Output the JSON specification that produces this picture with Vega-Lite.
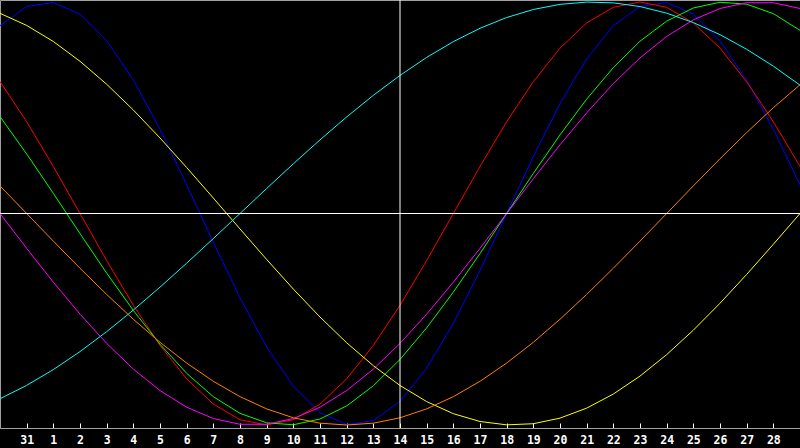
{
  "$schema": "https://vega.github.io/schema/vega-lite/v6.json",
  "width": 800,
  "height": 428,
  "autosize": "none",
  "padding": {"left": 0, "top": 0, "right": 0, "bottom": 20},
  "background": "#000000",
  "config": {
    "view": {"stroke": "#a0a0a0", "fill": "#000000"},
    "axis": {"grid": false},
    "axisX": {
      "labelColor": "#ffffff",
      "labelFont": "DejaVu Sans Mono",
      "labelFontWeight": "bold",
      "labelFontSize": 11.5,
      "labelPadding": 11,
      "labelBaseline": "top",
      "labelAngle": 0,
      "labelFlush": false,
      "labelOverlap": false,
      "labelBound": false,
      "tickColor": "#ffffff",
      "tickSize": -5,
      "domainColor": "#a0a0a0"
    }
  },
  "layer": [
    {
      "data": {
        "values": [
          {"d": 0, "c": "physical", "v": 0.8879}, {"d": 1, "c": "physical", "v": 0.9791}, {"d": 2, "c": "physical", "v": 0.9977},
          {"d": 3, "c": "physical", "v": 0.9423}, {"d": 4, "c": "physical", "v": 0.8170}, {"d": 5, "c": "physical", "v": 0.6311},
          {"d": 6, "c": "physical", "v": 0.3984}, {"d": 7, "c": "physical", "v": 0.1362}, {"d": 8, "c": "physical", "v": -0.1362},
          {"d": 9, "c": "physical", "v": -0.3984}, {"d": 10, "c": "physical", "v": -0.6311}, {"d": 11, "c": "physical", "v": -0.8170},
          {"d": 12, "c": "physical", "v": -0.9423}, {"d": 13, "c": "physical", "v": -0.9977}, {"d": 14, "c": "physical", "v": -0.9791},
          {"d": 15, "c": "physical", "v": -0.8879}, {"d": 16, "c": "physical", "v": -0.7308}, {"d": 17, "c": "physical", "v": -0.5196},
          {"d": 18, "c": "physical", "v": -0.2698}, {"d": 19, "c": "physical", "v": 0}, {"d": 20, "c": "physical", "v": 0.2698},
          {"d": 21, "c": "physical", "v": 0.5196}, {"d": 22, "c": "physical", "v": 0.7308}, {"d": 23, "c": "physical", "v": 0.8879},
          {"d": 24, "c": "physical", "v": 0.9791}, {"d": 25, "c": "physical", "v": 0.9977}, {"d": 26, "c": "physical", "v": 0.9423},
          {"d": 27, "c": "physical", "v": 0.8170}, {"d": 28, "c": "physical", "v": 0.6311}, {"d": 29, "c": "physical", "v": 0.3984},
          {"d": 30, "c": "physical", "v": 0.1362},

          {"d": 0, "c": "emotional", "v": 0.6235}, {"d": 1, "c": "emotional", "v": 0.4339}, {"d": 2, "c": "emotional", "v": 0.2225},
          {"d": 3, "c": "emotional", "v": 0}, {"d": 4, "c": "emotional", "v": -0.2225}, {"d": 5, "c": "emotional", "v": -0.4339},
          {"d": 6, "c": "emotional", "v": -0.6235}, {"d": 7, "c": "emotional", "v": -0.7818}, {"d": 8, "c": "emotional", "v": -0.9010},
          {"d": 9, "c": "emotional", "v": -0.9749}, {"d": 10, "c": "emotional", "v": -1}, {"d": 11, "c": "emotional", "v": -0.9749},
          {"d": 12, "c": "emotional", "v": -0.9010}, {"d": 13, "c": "emotional", "v": -0.7818}, {"d": 14, "c": "emotional", "v": -0.6235},
          {"d": 15, "c": "emotional", "v": -0.4339}, {"d": 16, "c": "emotional", "v": -0.2225}, {"d": 17, "c": "emotional", "v": 0},
          {"d": 18, "c": "emotional", "v": 0.2225}, {"d": 19, "c": "emotional", "v": 0.4339}, {"d": 20, "c": "emotional", "v": 0.6235},
          {"d": 21, "c": "emotional", "v": 0.7818}, {"d": 22, "c": "emotional", "v": 0.9010}, {"d": 23, "c": "emotional", "v": 0.9749},
          {"d": 24, "c": "emotional", "v": 1}, {"d": 25, "c": "emotional", "v": 0.9749}, {"d": 26, "c": "emotional", "v": 0.9010},
          {"d": 27, "c": "emotional", "v": 0.7818}, {"d": 28, "c": "emotional", "v": 0.6235}, {"d": 29, "c": "emotional", "v": 0.4339},
          {"d": 30, "c": "emotional", "v": 0.2225},

          {"d": 0, "c": "intellectual", "v": 0.4582}, {"d": 1, "c": "intellectual", "v": 0.2817}, {"d": 2, "c": "intellectual", "v": 0.0951},
          {"d": 3, "c": "intellectual", "v": -0.0951}, {"d": 4, "c": "intellectual", "v": -0.2817}, {"d": 5, "c": "intellectual", "v": -0.4582},
          {"d": 6, "c": "intellectual", "v": -0.6182}, {"d": 7, "c": "intellectual", "v": -0.7557}, {"d": 8, "c": "intellectual", "v": -0.8660},
          {"d": 9, "c": "intellectual", "v": -0.9450}, {"d": 10, "c": "intellectual", "v": -0.9898}, {"d": 11, "c": "intellectual", "v": -0.9989},
          {"d": 12, "c": "intellectual", "v": -0.9718}, {"d": 13, "c": "intellectual", "v": -0.9096}, {"d": 14, "c": "intellectual", "v": -0.8146},
          {"d": 15, "c": "intellectual", "v": -0.6901}, {"d": 16, "c": "intellectual", "v": -0.5406}, {"d": 17, "c": "intellectual", "v": -0.3717},
          {"d": 18, "c": "intellectual", "v": -0.1893}, {"d": 19, "c": "intellectual", "v": 0}, {"d": 20, "c": "intellectual", "v": 0.1893},
          {"d": 21, "c": "intellectual", "v": 0.3717}, {"d": 22, "c": "intellectual", "v": 0.5406}, {"d": 23, "c": "intellectual", "v": 0.6901},
          {"d": 24, "c": "intellectual", "v": 0.8146}, {"d": 25, "c": "intellectual", "v": 0.9096}, {"d": 26, "c": "intellectual", "v": 0.9718},
          {"d": 27, "c": "intellectual", "v": 0.9989}, {"d": 28, "c": "intellectual", "v": 0.9898}, {"d": 29, "c": "intellectual", "v": 0.9450},
          {"d": 30, "c": "intellectual", "v": 0.8660},

          {"d": 0, "c": "intuitive", "v": 0}, {"d": 1, "c": "intuitive", "v": -0.1646}, {"d": 2, "c": "intuitive", "v": -0.3247},
          {"d": 3, "c": "intuitive", "v": -0.4759}, {"d": 4, "c": "intuitive", "v": -0.6142}, {"d": 5, "c": "intuitive", "v": -0.7357},
          {"d": 6, "c": "intuitive", "v": -0.8372}, {"d": 7, "c": "intuitive", "v": -0.9158}, {"d": 8, "c": "intuitive", "v": -0.9694},
          {"d": 9, "c": "intuitive", "v": -0.9966}, {"d": 10, "c": "intuitive", "v": -0.9966}, {"d": 11, "c": "intuitive", "v": -0.9694},
          {"d": 12, "c": "intuitive", "v": -0.9158}, {"d": 13, "c": "intuitive", "v": -0.8372}, {"d": 14, "c": "intuitive", "v": -0.7357},
          {"d": 15, "c": "intuitive", "v": -0.6142}, {"d": 16, "c": "intuitive", "v": -0.4759}, {"d": 17, "c": "intuitive", "v": -0.3247},
          {"d": 18, "c": "intuitive", "v": -0.1646}, {"d": 19, "c": "intuitive", "v": 0}, {"d": 20, "c": "intuitive", "v": 0.1646},
          {"d": 21, "c": "intuitive", "v": 0.3247}, {"d": 22, "c": "intuitive", "v": 0.4759}, {"d": 23, "c": "intuitive", "v": 0.6142},
          {"d": 24, "c": "intuitive", "v": 0.7357}, {"d": 25, "c": "intuitive", "v": 0.8372}, {"d": 26, "c": "intuitive", "v": 0.9158},
          {"d": 27, "c": "intuitive", "v": 0.9694}, {"d": 28, "c": "intuitive", "v": 0.9966}, {"d": 29, "c": "intuitive", "v": 0.9966},
          {"d": 30, "c": "intuitive", "v": 0.9694},

          {"d": 0, "c": "aesthetic", "v": 0.9465}, {"d": 1, "c": "aesthetic", "v": 0.8893}, {"d": 2, "c": "aesthetic", "v": 0.8133},
          {"d": 3, "c": "aesthetic", "v": 0.7197}, {"d": 4, "c": "aesthetic", "v": 0.6112}, {"d": 5, "c": "aesthetic", "v": 0.4894},
          {"d": 6, "c": "aesthetic", "v": 0.3572}, {"d": 7, "c": "aesthetic", "v": 0.2174}, {"d": 8, "c": "aesthetic", "v": 0.0730},
          {"d": 9, "c": "aesthetic", "v": -0.0730}, {"d": 10, "c": "aesthetic", "v": -0.2174}, {"d": 11, "c": "aesthetic", "v": -0.3572},
          {"d": 12, "c": "aesthetic", "v": -0.4894}, {"d": 13, "c": "aesthetic", "v": -0.6112}, {"d": 14, "c": "aesthetic", "v": -0.7197},
          {"d": 15, "c": "aesthetic", "v": -0.8133}, {"d": 16, "c": "aesthetic", "v": -0.8893}, {"d": 17, "c": "aesthetic", "v": -0.9465},
          {"d": 18, "c": "aesthetic", "v": -0.9834}, {"d": 19, "c": "aesthetic", "v": -0.9993}, {"d": 20, "c": "aesthetic", "v": -0.9940},
          {"d": 21, "c": "aesthetic", "v": -0.9675}, {"d": 22, "c": "aesthetic", "v": -0.9203}, {"d": 23, "c": "aesthetic", "v": -0.8536},
          {"d": 24, "c": "aesthetic", "v": -0.7687}, {"d": 25, "c": "aesthetic", "v": -0.6673}, {"d": 26, "c": "aesthetic", "v": -0.5517},
          {"d": 27, "c": "aesthetic", "v": -0.4244}, {"d": 28, "c": "aesthetic", "v": -0.2881}, {"d": 29, "c": "aesthetic", "v": -0.1456},
          {"d": 30, "c": "aesthetic", "v": 0},

          {"d": 0, "c": "awareness", "v": 0.1305}, {"d": 1, "c": "awareness", "v": 0}, {"d": 2, "c": "awareness", "v": -0.1305},
          {"d": 3, "c": "awareness", "v": -0.2588}, {"d": 4, "c": "awareness", "v": -0.3827}, {"d": 5, "c": "awareness", "v": -0.5},
          {"d": 6, "c": "awareness", "v": -0.6088}, {"d": 7, "c": "awareness", "v": -0.7071}, {"d": 8, "c": "awareness", "v": -0.7934},
          {"d": 9, "c": "awareness", "v": -0.8660}, {"d": 10, "c": "awareness", "v": -0.9239}, {"d": 11, "c": "awareness", "v": -0.9659},
          {"d": 12, "c": "awareness", "v": -0.9914}, {"d": 13, "c": "awareness", "v": -1}, {"d": 14, "c": "awareness", "v": -0.9914},
          {"d": 15, "c": "awareness", "v": -0.9659}, {"d": 16, "c": "awareness", "v": -0.9239}, {"d": 17, "c": "awareness", "v": -0.8660},
          {"d": 18, "c": "awareness", "v": -0.7934}, {"d": 19, "c": "awareness", "v": -0.7071}, {"d": 20, "c": "awareness", "v": -0.6088},
          {"d": 21, "c": "awareness", "v": -0.5}, {"d": 22, "c": "awareness", "v": -0.3827}, {"d": 23, "c": "awareness", "v": -0.2588},
          {"d": 24, "c": "awareness", "v": -0.1305}, {"d": 25, "c": "awareness", "v": 0}, {"d": 26, "c": "awareness", "v": 0.1305},
          {"d": 27, "c": "awareness", "v": 0.2588}, {"d": 28, "c": "awareness", "v": 0.3827}, {"d": 29, "c": "awareness", "v": 0.5},
          {"d": 30, "c": "awareness", "v": 0.6088},

          {"d": 0, "c": "spiritual", "v": -0.8758}, {"d": 1, "c": "spiritual", "v": -0.8126}, {"d": 2, "c": "spiritual", "v": -0.7380},
          {"d": 3, "c": "spiritual", "v": -0.6529}, {"d": 4, "c": "spiritual", "v": -0.5587}, {"d": 5, "c": "spiritual", "v": -0.4566},
          {"d": 6, "c": "spiritual", "v": -0.3482}, {"d": 7, "c": "spiritual", "v": -0.2349}, {"d": 8, "c": "spiritual", "v": -0.1183},
          {"d": 9, "c": "spiritual", "v": 0}, {"d": 10, "c": "spiritual", "v": 0.1183}, {"d": 11, "c": "spiritual", "v": 0.2349},
          {"d": 12, "c": "spiritual", "v": 0.3482}, {"d": 13, "c": "spiritual", "v": 0.4566}, {"d": 14, "c": "spiritual", "v": 0.5587},
          {"d": 15, "c": "spiritual", "v": 0.6529}, {"d": 16, "c": "spiritual", "v": 0.7380}, {"d": 17, "c": "spiritual", "v": 0.8126},
          {"d": 18, "c": "spiritual", "v": 0.8758}, {"d": 19, "c": "spiritual", "v": 0.9267}, {"d": 20, "c": "spiritual", "v": 0.9646},
          {"d": 21, "c": "spiritual", "v": 0.9890}, {"d": 22, "c": "spiritual", "v": 0.9996}, {"d": 23, "c": "spiritual", "v": 0.9961},
          {"d": 24, "c": "spiritual", "v": 0.9786}, {"d": 25, "c": "spiritual", "v": 0.9473}, {"d": 26, "c": "spiritual", "v": 0.9027},
          {"d": 27, "c": "spiritual", "v": 0.8456}, {"d": 28, "c": "spiritual", "v": 0.7765}, {"d": 29, "c": "spiritual", "v": 0.6967},
          {"d": 30, "c": "spiritual", "v": 0.6068}
        ]
      },
      "mark": {"type": "line", "strokeWidth": 1, "clip": true},
      "encoding": {
        "x": {
          "field": "d",
          "type": "ordinal",
          "sort": null,
          "scale": {
            "type": "point",
            "padding": 0,
            "domain": [0, 1, 2, 3, 4, 5, 6, 7, 8, 9, 10, 11, 12, 13, 14, 15, 16, 17, 18, 19, 20, 21, 22, 23, 24, 25, 26, 27, 28, 29, 30]
          },
          "axis": {
            "title": null,
            "values": [1, 2, 3, 4, 5, 6, 7, 8, 9, 10, 11, 12, 13, 14, 15, 16, 17, 18, 19, 20, 21, 22, 23, 24, 25, 26, 27, 28, 29],
            "labelExpr": "datum.value == 1 ? '31' : '' + (datum.value - 1)",
            "labelOverlap": false
          }
        },
        "y": {
          "field": "v",
          "type": "quantitative",
          "scale": {"domain": [-1.0142, 1.0095], "nice": false, "zero": false},
          "axis": null
        },
        "color": {
          "field": "c",
          "type": "nominal",
          "scale": {
            "domain": ["spiritual", "aesthetic", "awareness", "intuitive", "intellectual", "emotional", "physical"],
            "range": ["#00ffff", "#ffff00", "#ff8000", "#ff00ff", "#00ff00", "#ff0000", "#0000ff"]
          },
          "legend": null
        }
      }
    },
    {
      "data": {"values": [{}]},
      "mark": {"type": "rule", "color": "#ffffff", "strokeWidth": 1},
      "encoding": {"x": {"datum": 15, "type": "ordinal"}}
    },
    {
      "data": {"values": [{}]},
      "mark": {"type": "rule", "color": "#ffffff", "strokeWidth": 1},
      "encoding": {"y": {"datum": 0, "type": "quantitative"}}
    }
  ]
}
